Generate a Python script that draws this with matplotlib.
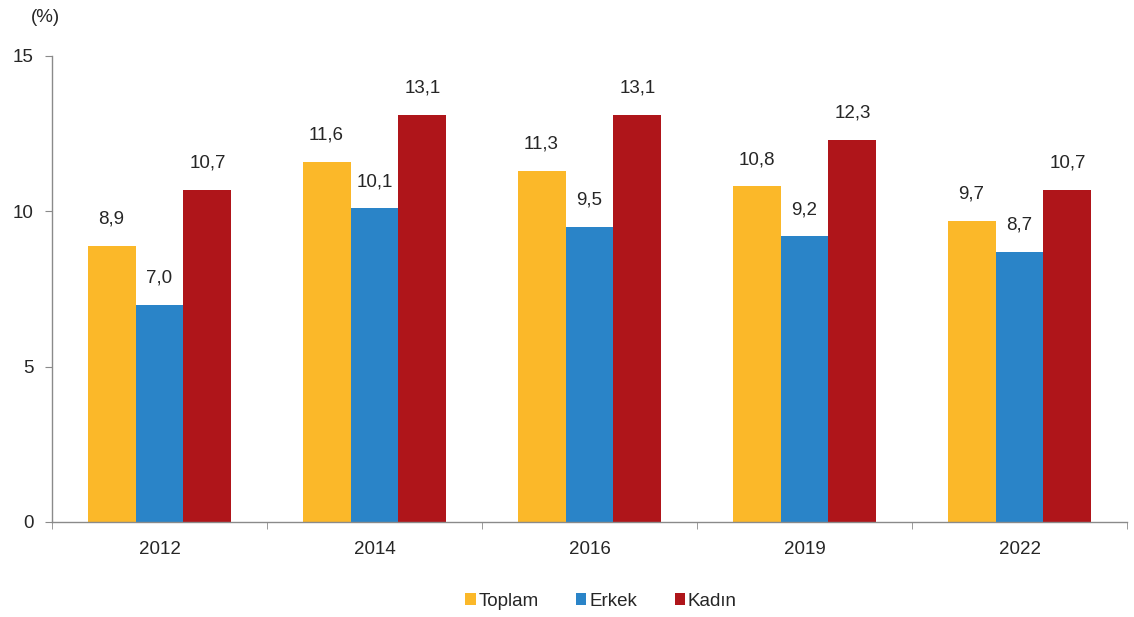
import matplotlib
matplotlib.use("Agg")
import matplotlib.pyplot as plt
import numpy as np

years = ["2012", "2014", "2016", "2019", "2022"]
series_names = ["Toplam", "Erkek", "Kadın"]
toplam = [8.9, 11.6, 11.3, 10.8, 9.7]
erkek = [7.0, 10.1, 9.5, 9.2, 8.7]
kadin = [10.7, 13.1, 13.1, 12.3, 10.7]
colors = ["#FBB829", "#2A84C8", "#AF151A"]

plt.rcParams['font.family'] = ['Liberation Sans', 'DejaVu Sans']

fig = plt.figure(figsize=(11.34, 6.17), dpi=100)
ax = fig.add_axes([52/1134, 95/617, (1127-52)/1134, (522-56)/617])

x = np.arange(len(years))
w = 0.223
text_color = "#262626"
fs = 13.5
for i, (vals, name, c) in enumerate(zip([toplam, erkek, kadin], series_names, colors)):
    pos = x + (i - 1) * w
    ax.bar(pos, vals, width=w, color=c, label=name, linewidth=0)
    for p, v in zip(pos, vals):
        ax.annotate(f"{v:.1f}".replace(".", ","), (p, v), xytext=(0, 13),
                    textcoords="offset points", ha="center", va="bottom",
                    fontsize=fs, color=text_color)

ax.set_xlim(-0.5, len(years) - 0.5)
ax.set_ylim(0, 15)
ax.set_yticks([0, 5, 10, 15])
ax.set_xticks(x)
ax.set_xticklabels(years)
ax.set_xticks(np.arange(-0.5, len(years)), minor=True)
ax.tick_params(axis="x", which="major", length=0, pad=14, labelsize=fs, labelcolor=text_color)
ax.tick_params(axis="x", which="minor", length=5, color="#8a8a8a", direction="out")
ax.tick_params(axis="y", length=5, color="#8a8a8a", pad=8, labelsize=fs, labelcolor=text_color)

for s in ["top", "right"]:
    ax.spines[s].set_visible(False)
for s in ["left", "bottom"]:
    ax.spines[s].set_color("#8a8a8a")
    ax.spines[s].set_linewidth(1)

fig.text(45/1134, 1 - 18/617, "(%)", ha="center", va="center", fontsize=fs, color=text_color)

leg = fig.legend(loc="center", bbox_to_anchor=(601/1134, 1 - 601/617), ncol=3, frameon=False,
                 fontsize=fs, handlelength=0.55, handleheight=0.55, handletextpad=0.15,
                 columnspacing=2.0, labelcolor=text_color)

fig.savefig("out.png", dpi=100)
